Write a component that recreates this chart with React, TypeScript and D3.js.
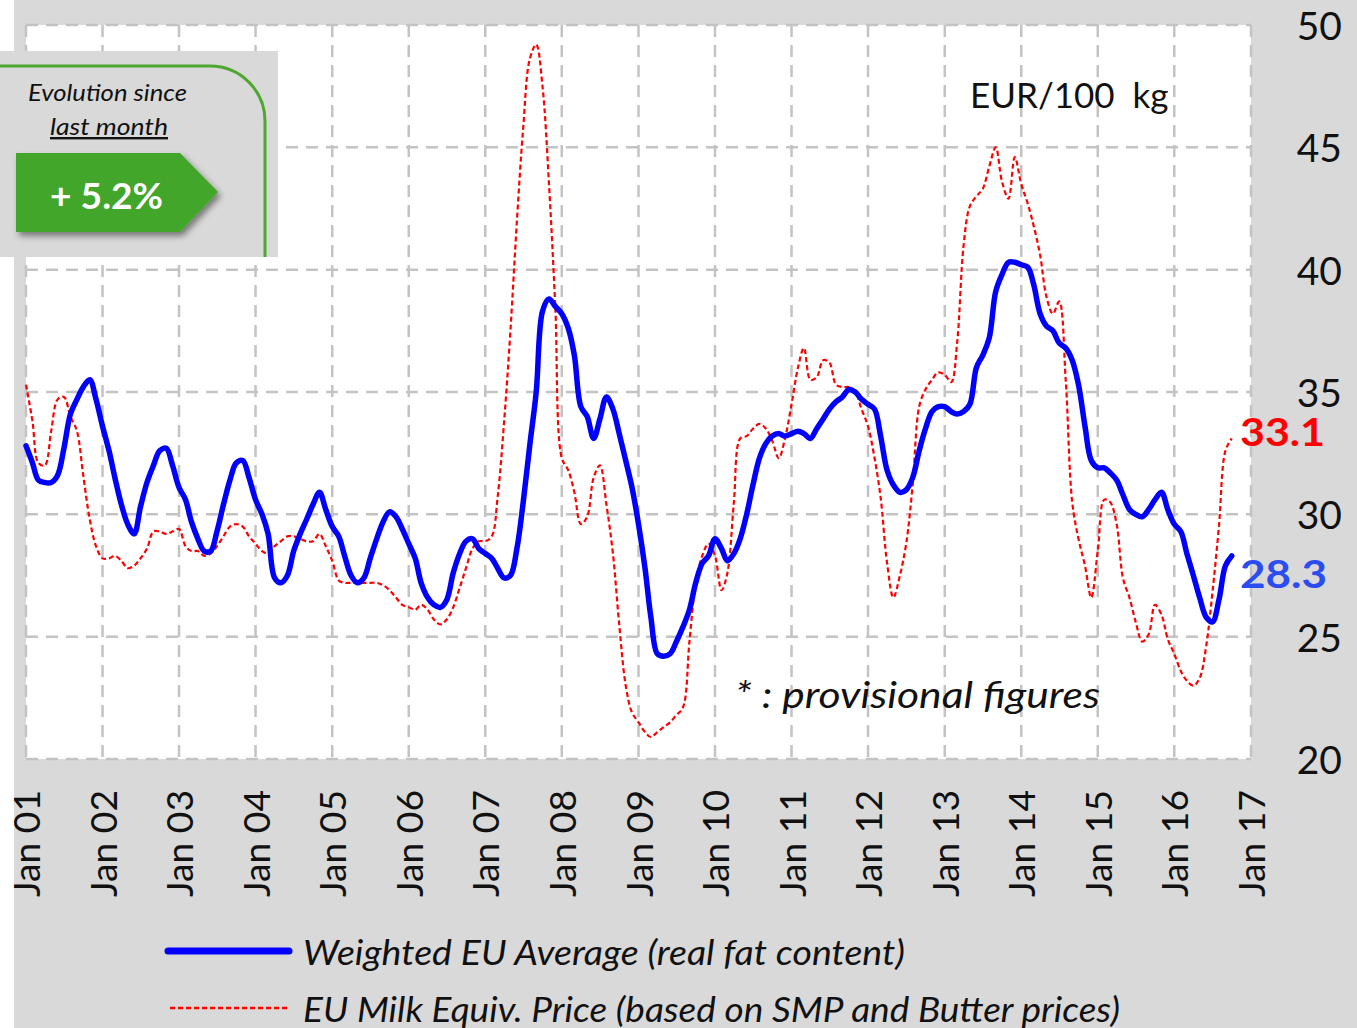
import * as d3 from "d3";

// Monthly values, Jan 2001 onwards
const startYear = 2001;

const weightedAvg = [
  32.8, 32.1, 31.4, 31.3, 31.3, 31.6, 32.7, 34.1, 34.7, 35.2, 35.5, 34.7,
  33.6, 32.6, 31.5, 30.4, 29.6, 29.2, 30.3, 31.3, 32.0, 32.6, 32.7, 32.0,
  31.1, 30.6, 29.7, 29.0, 28.5, 28.5, 29.3, 30.4, 31.4, 32.1, 32.2, 31.5,
  30.6, 30.0, 29.2, 27.4, 27.2, 27.5, 28.5, 29.2, 29.8, 30.4, 30.9, 30.2,
  29.5, 29.1, 28.3, 27.5, 27.2, 27.4, 28.2, 29.0, 29.7, 30.1, 29.9, 29.4,
  28.8, 28.2, 27.2, 26.6, 26.3, 26.2, 26.5, 27.6, 28.4, 28.9, 29.0, 28.6,
  28.4, 28.2, 27.8, 27.4, 27.5, 28.6, 30.5, 32.8, 35.0, 38.3, 38.8, 38.5,
  38.2, 37.6, 36.5, 34.4, 34.0, 33.1, 33.9, 34.8, 34.3, 33.3, 32.2, 31.1,
  29.6, 27.8, 25.8, 24.3, 24.2, 24.3, 24.8, 25.4, 26.1, 27.2, 28.0, 28.3,
  29.0, 28.6, 28.1, 28.4, 29.0, 30.0, 31.2, 32.3, 32.9, 33.2, 33.3, 33.2,
  33.3, 33.4, 33.3, 33.1, 33.5, 33.9, 34.3, 34.6, 34.8, 35.1, 35.0, 34.7,
  34.5, 34.3, 33.2, 31.8, 31.2, 30.9, 31.0, 31.5, 32.6, 33.5, 34.2, 34.4,
  34.4, 34.2, 34.1, 34.2, 34.5, 36.0, 36.5, 37.2, 39.1, 39.8, 40.3, 40.3,
  40.2, 40.1, 39.4, 38.2, 37.7, 37.5, 37.0, 36.8, 36.3, 35.3, 33.6, 32.2,
  31.9, 31.9, 31.7, 31.4, 30.8, 30.2, 30.0, 29.9, 30.2, 30.6, 30.9, 30.2,
  29.6, 29.3, 28.4, 27.5, 26.6, 25.8, 25.6, 26.5, 27.9, 28.3,
];

const milkEquiv = [
  35.3, 33.8, 32.1, 32.0, 33.4, 34.7, 34.8, 34.0, 33.4, 31.6, 29.8, 28.7,
  28.2, 28.2, 28.3, 28.1, 27.8, 27.9, 28.2, 28.6, 29.3, 29.3, 29.2, 29.3,
  29.4, 28.7, 28.5, 28.5, 28.3, 28.4, 28.7, 29.1, 29.5, 29.6, 29.5, 29.1,
  28.8, 28.5, 28.4, 28.7, 28.9, 29.1, 29.1, 29.0, 28.9, 28.9, 29.2, 28.7,
  28.1, 27.3, 27.2, 27.2, 27.2, 27.2, 27.2, 27.2, 27.1, 26.9, 26.6, 26.3,
  26.2, 26.1, 26.3, 26.1, 25.7, 25.5, 25.7, 26.2, 27.0, 27.8, 28.6, 28.9,
  28.9, 29.1, 30.7, 33.8, 37.5, 42.0, 45.8, 48.6, 49.2, 47.5, 43.5, 38.5,
  32.3, 31.8, 30.9, 29.6, 29.9, 31.5, 32.0, 30.4, 28.4, 25.5, 23.0, 21.9,
  21.5, 21.1, 20.9, 21.1, 21.3, 21.5, 21.8, 22.1, 24.8, 27.2, 28.3, 28.8,
  28.3, 26.9, 27.6, 30.5, 33.1, 33.2, 33.5, 33.7, 33.5, 33.0, 32.3, 33.1,
  34.5, 36.0, 36.8, 35.5, 35.6, 36.3, 36.2, 35.3, 35.2, 35.2, 35.0, 34.3,
  33.6, 32.3, 30.7, 28.0, 26.6, 27.5, 28.8, 31.2, 34.4, 35.1, 35.5, 35.8,
  35.7, 35.4, 37.0, 41.0, 42.6, 43.0, 43.3, 44.2, 45.0, 43.6, 42.9, 44.6,
  43.5, 42.7, 41.8, 40.6, 38.9, 38.2, 38.7, 35.5, 30.5, 29.0, 27.9, 26.6,
  28.5, 30.6, 30.5, 29.6, 27.4, 26.6, 25.6, 24.8, 25.1, 26.3, 25.9, 24.9,
  24.3, 23.6, 23.2, 23.0, 23.3, 24.6, 26.8, 29.5, 32.6, 33.1,
];

const yTicks = [20, 25, 30, 35, 40, 45, 50];
const lastWeighted = "28.3";
const lastMilk = "33.1";
const evolution = "+ 5.2%";
const legendLabels = [
  "Weighted EU Average (real fat content)",
  "EU Milk Equiv. Price (based on SMP and Butter prices)",
];

const FONT = "Lato, 'Open Sans', sans-serif";

export default function App() {
  const width = 1357;
  const height = 1028;
  const plot = { left: 26, right: 1251, top: 25, bottom: 759 };

  const x = d3
    .scaleTime()
    .domain([new Date(startYear, 0, 1), new Date(2017, 0, 1)])
    .range([plot.left, plot.right]);
  const y = d3.scaleLinear().domain([20, 50]).range([plot.bottom, plot.top]);

  const dateOf = (i: number) => new Date(startYear, i, 1);
  const line = d3
    .line<number>()
    .x((_, i) => x(dateOf(i)))
    .y((d) => y(d))
    .curve(d3.curveCatmullRom.alpha(0.5));

  const years = d3.timeYear.range(
    new Date(startYear, 0, 1),
    new Date(2017, 0, 2)
  );
  const fmt = d3.timeFormat("Jan %y");

  const gridColor = "#c3c3c3";

  return (
    <svg
      width={width}
      height={height}
      style={{ position: "absolute", left: 0, top: 0 }}
      fontFamily={FONT}
    >
      <defs>
        <filter id="shadow" x="-20%" y="-20%" width="150%" height="160%">
          <feDropShadow dx="3" dy="4" stdDeviation="3" floodOpacity="0.45" />
        </filter>
      </defs>
      <rect width={width} height={height} fill="#ffffff" />
      <rect x={14} y={0} width={width - 14} height={height} fill="#d9d9d9" />
      <rect
        x={plot.left}
        y={plot.top}
        width={plot.right - plot.left}
        height={plot.bottom - plot.top}
        fill="#ffffff"
      />

      {/* grid */}
      {yTicks.map((t) => (
        <line
          key={`h${t}`}
          x1={plot.left}
          x2={plot.right}
          y1={y(t)}
          y2={y(t)}
          stroke={gridColor}
          strokeWidth={2.5}
          strokeDasharray="12,8"
        />
      ))}
      {years.map((d) => (
        <line
          key={`v${d.getFullYear()}`}
          x1={x(d)}
          x2={x(d)}
          y1={plot.top}
          y2={plot.bottom}
          stroke={gridColor}
          strokeWidth={2.5}
          strokeDasharray="12,8"
        />
      ))}

      {/* series */}
      <path
        d={line(milkEquiv) ?? ""}
        fill="none"
        stroke="#ff0000"
        strokeWidth={2.2}
        strokeDasharray="5,3"
      />
      <path
        d={line(weightedAvg) ?? ""}
        fill="none"
        stroke="#0000ff"
        strokeWidth={5.5}
        strokeLinejoin="round"
        strokeLinecap="round"
      />

      {/* y axis labels on the right */}
      {yTicks.map((t) => (
        <text
          key={`yl${t}`}
          x={1342}
          y={y(t)}
          textAnchor="end"
          dominantBaseline="central"
          fontSize={39}
          fill="#111"
        >
          {t}
        </text>
      ))}

      {/* x axis labels */}
      {years.map((d) => (
        <text
          key={`xl${d.getFullYear()}`}
          transform={`translate(${x(d) + 14},897) rotate(-90)`}
          textAnchor="start"
          fontSize={36}
          fill="#111"
          textLength={107}
          lengthAdjust="spacingAndGlyphs"
        >
          {fmt(d)}
        </text>
      ))}

      {/* end labels */}
      <text
        x={1240}
        y={431}
        dominantBaseline="central"
        fontSize={38}
        fontWeight="bold"
        fill="#ff0000"
        textLength={85}
        lengthAdjust="spacingAndGlyphs"
      >
        {lastMilk}
      </text>
      <text
        x={1240}
        y={573}
        dominantBaseline="central"
        fontSize={39}
        fontWeight="bold"
        fill="#2a4cf0"
        textLength={87}
        lengthAdjust="spacingAndGlyphs"
      >
        {lastWeighted}
      </text>

      <text x={970} y={108} fontSize={35} fill="#111" xmlSpace="preserve">
        EUR/100  kg
      </text>
      <text
        x={735}
        y={708}
        fontSize={36}
        fontStyle="italic"
        fill="#111"
        textLength={365}
        lengthAdjust="spacingAndGlyphs"
      >
        * : provisional figures
      </text>

      {/* callout */}
      <rect x={0} y={51} width={278} height={206} fill="#d9d9d9" />
      <path
        d="M0,66 H210 A55,55 0 0 1 265,121 V257"
        fill="none"
        stroke="#4ea72e"
        strokeWidth={3}
      />
      <text
        x={28}
        y={101}
        fontSize={24}
        fontStyle="italic"
        fill="#111"
        textLength={159}
        lengthAdjust="spacingAndGlyphs"
      >
        Evolution since
      </text>
      <text
        x={50}
        y={135}
        fontSize={24}
        fontStyle="italic"
        fill="#111"
        textDecoration="underline"
        textLength={118}
        lengthAdjust="spacingAndGlyphs"
      >
        last month
      </text>
      <path
        d="M16,153 H180 L218,192 L180,232 H16 Z"
        fill="#42a62c"
        filter="url(#shadow)"
      />
      <text
        x={50}
        y={195}
        dominantBaseline="central"
        fontSize={36}
        fontWeight="bold"
        fill="#ffffff"
        textLength={113}
        lengthAdjust="spacingAndGlyphs"
      >
        {evolution}
      </text>

      {/* legend */}
      <line
        x1={168}
        x2={289}
        y1={951}
        y2={951}
        stroke="#0000ff"
        strokeWidth={7}
        strokeLinecap="round"
      />
      <text
        x={303}
        y={965}
        fontSize={34}
        fontStyle="italic"
        fill="#111"
        textLength={602}
        lengthAdjust="spacingAndGlyphs"
      >
        {legendLabels[0]}
      </text>
      <line
        x1={170}
        x2={290}
        y1={1008}
        y2={1008}
        stroke="#ff0000"
        strokeWidth={2.5}
        strokeDasharray="5,3"
      />
      <text
        x={303}
        y={1022}
        fontSize={34}
        fontStyle="italic"
        fill="#111"
        textLength={817}
        lengthAdjust="spacingAndGlyphs"
      >
        {legendLabels[1]}
      </text>
    </svg>
  );
}
